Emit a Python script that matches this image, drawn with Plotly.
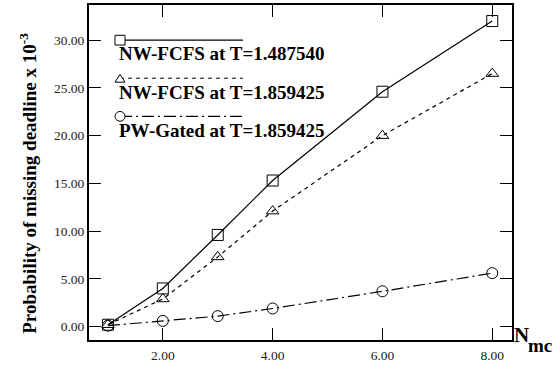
import plotly.graph_objects as go

# Number of mobile channels
n_mc = [1, 2, 3, 4, 6, 8]

# Probability of missing the deadline (x 10^-3)
nw_fcfs_1487540 = [0.2, 4.0, 9.6, 15.3, 24.6, 32.0]
nw_fcfs_1859425 = [0.2, 2.9, 7.3, 12.1, 20.0, 26.5]
pw_gated_1859425 = [0.1, 0.6, 1.1, 1.9, 3.7, 5.6]

series_names = ["NW-FCFS at T=1.487540", "NW-FCFS at T=1.859425", "PW-Gated at T=1.859425"]
x_ticks = [2, 4, 6, 8]
y_ticks = [0, 5, 10, 15, 20, 25, 30]

W, H = 558, 366
L, R, T, B = 89, 46, 3, 20
PW, PH = W - L - R, H - T - B

FONT = "Liberation Serif, Times New Roman, serif"

styles = [
    dict(symbol="square-open", dash="solid"),
    dict(symbol="triangle-up-open", dash="4px,4px"),
    dict(symbol="circle-open", dash="12px,4px,2px,4px"),
]

fig = go.Figure()
for ys, st, name in zip([nw_fcfs_1487540, nw_fcfs_1859425, pw_gated_1859425], styles, series_names):
    fig.add_trace(go.Scatter(
        x=n_mc, y=ys, mode="lines+markers", name=name, showlegend=False,
        line=dict(color="black", width=1.2, dash=st["dash"]),
        marker=dict(symbol=st["symbol"], size=11, color="black",
                    line=dict(color="black", width=1)),
    ))


def px_x(px):
    return (px - L) / PW


def px_y(py):
    return (H - B - py) / PH


# Hand-drawn legend: line sample with leading marker, label underneath
shapes = []
annotations = []
legend_rows = [39, 78, 117]
label_rows = [52.5, 92.5, 131]
for row, lrow, st, name in zip(legend_rows, label_rows, styles, series_names):
    shapes.append(dict(type="line", xref="paper", yref="paper",
                       x0=px_x(120), x1=px_x(243), y0=px_y(row), y1=px_y(row),
                       line=dict(color="black", width=1.2, dash=st["dash"])))
    annotations.append(dict(text=f"<b>{name}</b>", xref="paper", yref="paper",
                            x=px_x(117), y=px_y(lrow), xanchor="left", yanchor="middle",
                            showarrow=False, font=dict(family=FONT, size=19, color="black")))

r = 5
shapes.append(dict(type="rect", xref="paper", yref="paper",
                   x0=px_x(120 - r), x1=px_x(120 + r), y0=px_y(39 - r), y1=px_y(39 + r),
                   line=dict(color="black", width=1), fillcolor="white"))
shapes.append(dict(type="path", xref="paper", yref="paper",
                   path=(f"M {px_x(115)} {px_y(82)} L {px_x(125)} {px_y(82)} "
                         f"L {px_x(120)} {px_y(74)} Z"),
                   line=dict(color="black", width=1), fillcolor="white"))
shapes.append(dict(type="circle", xref="paper", yref="paper",
                   x0=px_x(120 - r), x1=px_x(120 + r), y0=px_y(117 - r), y1=px_y(117 + r),
                   line=dict(color="black", width=1), fillcolor="white"))

annotations.append(dict(text="<b>Probability of missing deadline x 10<sup>-3</sup></b>",
                        xref="paper", yref="paper", x=px_x(28), y=px_y(186),
                        textangle=-90, showarrow=False, xanchor="center", yanchor="middle",
                        font=dict(family=FONT, size=19, color="black")))
annotations.append(dict(text="<b>N</b>", xref="paper", yref="paper",
                        x=px_x(512), y=px_y(340.5), xanchor="left", yanchor="middle",
                        showarrow=False, font=dict(family=FONT, size=21, color="black")))
annotations.append(dict(text="<b>mc</b>", xref="paper", yref="paper",
                        x=px_x(526), y=px_y(351.5), xanchor="left", yanchor="middle",
                        showarrow=False, font=dict(family=FONT, size=19, color="black")))

axis_common = dict(showline=True, linecolor="black", linewidth=2, mirror="ticks",
                   ticks="inside", ticklen=12, tickcolor="black", tickwidth=1,
                   showgrid=False, zeroline=False,
                   tickfont=dict(family=FONT, size=13.5, color="#222"))

fig.update_layout(
    width=W, height=H,
    margin=dict(l=L, r=R, t=T, b=B),
    plot_bgcolor="white", paper_bgcolor="white",
    xaxis=dict(range=[0.655, 8.36], tickvals=x_ticks, tickformat=".2f",
               ticklabelstandoff=2, **axis_common),
    yaxis=dict(range=[-1.40, 33.68], tickvals=y_ticks, tickformat=".2f", **axis_common),
    shapes=shapes,
    annotations=annotations,
)

fig.write_html("out.html")
